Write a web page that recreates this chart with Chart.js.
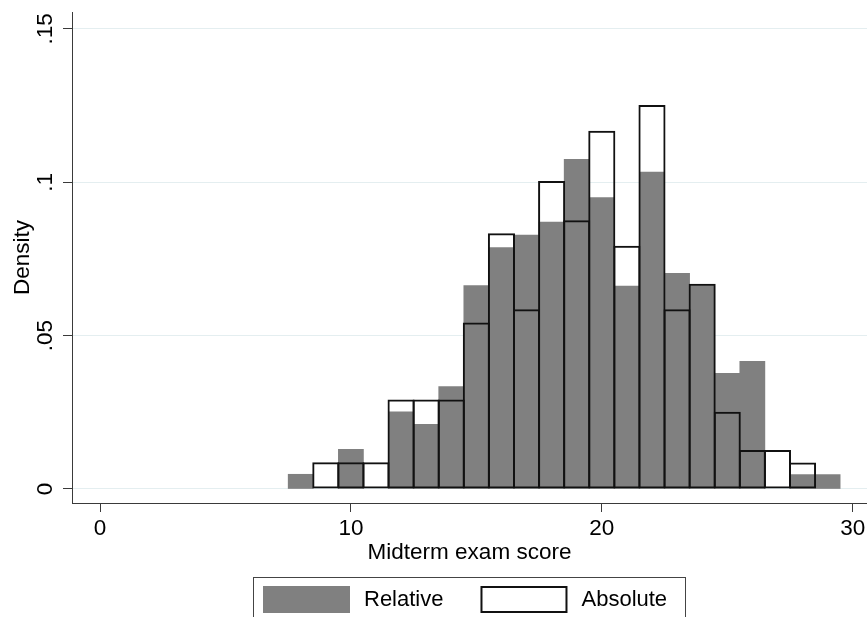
<!DOCTYPE html>
<html>
<head>
<meta charset="utf-8">
<title>Midterm exam score histogram</title>
<script src="https://cdn.jsdelivr.net/npm/chart.js@4.4.0/dist/chart.umd.min.js"></script>
<style>
  html, body { margin: 0; padding: 0; background: #ffffff; }
  #wrap { width: 867px; height: 617px; }
</style>
</head>
<body>
<div id="wrap"><canvas id="histogram" width="867" height="617"></canvas></div>
<script>
// Bin centres (width-1 bins) of the midterm exam score
const binCenters = [8, 9, 10, 11, 12, 13, 14, 15, 16, 17, 18, 19, 20, 21, 22, 23, 24, 25, 26, 27, 28, 29];

// Density per bin; null where the group has no observations
const relativeDensity = [0.0048, null, 0.0129, null, 0.0252, 0.0211, 0.0334, 0.0663, 0.0787, 0.0828, 0.0870,
                         0.1075, 0.0950, 0.0662, 0.1033, 0.0703, 0.0663, 0.0377, 0.0416, null, 0.0047, 0.0047];
const absoluteDensity = [null, 0.0087, 0.0087, 0.0087, 0.0292, 0.0292, 0.0292, 0.0543, 0.0834, 0.0586, 0.1004,
                         0.0876, 0.1168, 0.0793, 0.1252, 0.0586, 0.0669, 0.0252, 0.0127, 0.0127, 0.0086, null];

const seriesNames = ['Relative', 'Absolute'];

const xTickValues = [0, 10, 20, 30];
const xTickLabels = ['0', '10', '20', '30'];
const yTickValues = [0, 0.05, 0.1, 0.15];
const yTickLabels = ['0', '.05', '.1', '.15'];

const FONT_FAMILY = '"Liberation Sans", Arial, Helvetica, sans-serif';
const baseFont = { family: FONT_FAMILY, size: 22.5 };
const AXIS_COLOR = '#3a3a3a';
const GRID_COLOR = '#e4eef0';
const GRAY_FILL = '#808080';
const OUTLINE = '#111111';

function toPoints(values) {
  return binCenters
    .map((x, i) => ({ x: x, y: values[i] }))
    .filter(p => p.y !== null);
}

// Boxed legend under the axis title, drawn from the dataset styles
const boxedLegend = {
  id: 'boxedLegend',
  afterDraw(chart) {
    const ctx = chart.ctx;
    const area = chart.chartArea;
    const sets = chart.data.datasets;
    const cx = (area.left + area.right) / 2;
    ctx.save();
    ctx.font = '22px ' + FONT_FAMILY;
    const swW = 87, swH = 27, padL = 10, padR = 18, textGap = 14, itemGap = 37;
    const w0 = ctx.measureText(sets[0].label).width;
    const w1 = ctx.measureText(sets[1].label).width;
    const total = padL + swW + textGap + w0 + itemGap + swW + textGap + w1 + padR;
    const left = Math.round(cx - total / 2);
    const top = 577;
    // frame
    ctx.strokeStyle = '#444444';
    ctx.lineWidth = 1;
    ctx.strokeRect(left + 0.5, top + 0.5, Math.round(total), 80);
    const swTop = top + 9;
    const midY = swTop + swH / 2;
    // first item: filled swatch
    let x = left + padL;
    ctx.fillStyle = sets[0].backgroundColor;
    ctx.fillRect(x, swTop, swW, swH);
    x += swW + textGap;
    ctx.fillStyle = '#000000';
    ctx.textBaseline = 'middle';
    ctx.textAlign = 'left';
    ctx.fillText(sets[0].label, x, midY);
    x += w0 + itemGap;
    // second item: outlined swatch
    ctx.fillStyle = '#ffffff';
    ctx.fillRect(x, swTop, swW, swH);
    ctx.strokeStyle = sets[1].borderColor;
    ctx.lineWidth = 2;
    ctx.strokeRect(x + 1, swTop + 1, swW - 2, swH - 2);
    x += swW + textGap;
    ctx.fillStyle = '#000000';
    ctx.fillText(sets[1].label, x, midY);
    ctx.restore();
  }
};

new Chart(document.getElementById('histogram'), {
  type: 'bar',
  data: {
    datasets: [
      {
        label: seriesNames[0],
        data: toPoints(relativeDensity),
        backgroundColor: GRAY_FILL,
        borderWidth: 0,
        barPercentage: 1,
        categoryPercentage: 1,
        grouped: false,
        order: 2
      },
      {
        label: seriesNames[1],
        data: toPoints(absoluteDensity),
        backgroundColor: 'rgba(0,0,0,0)',
        borderColor: OUTLINE,
        borderWidth: 2,
        borderSkipped: false,
        barPercentage: 1.08,
        categoryPercentage: 1,
        grouped: false,
        order: 1
      }
    ]
  },
  options: {
    responsive: false,
    animation: false,
    devicePixelRatio: 1,
    layout: { padding: { top: 12, right: 0, bottom: 0, left: 0 } },
    plugins: {
      legend: { display: false },
      tooltip: { enabled: false }
    },
    scales: {
      x: {
        type: 'linear',
        offset: false,
        min: -1.116,
        max: 30.57,
        afterBuildTicks: s => { s.ticks = xTickValues.map(v => ({ value: v })); },
        afterFit: s => { s.height = 114; s.paddingLeft = 0; s.paddingRight = 0; },
        ticks: {
          autoSkip: false,
          maxRotation: 0,
          padding: 3,
          color: '#000000',
          font: baseFont,
          callback: (v, i) => xTickLabels[i]
        },
        grid: { offset: false, drawOnChartArea: false, tickLength: 9, tickColor: AXIS_COLOR, tickWidth: 1 },
        border: { display: true, color: AXIS_COLOR, width: 1 },
        title: {
          display: true,
          text: 'Midterm exam score',
          color: '#000000',
          font: baseFont,
          padding: { top: 0, bottom: 51 }
        }
      },
      y: {
        type: 'linear',
        min: -0.004565,
        max: 0.15553,
        afterBuildTicks: s => { s.ticks = yTickValues.map(v => ({ value: v })); },
        afterFit: s => { s.width = 72; s.paddingTop = 0; s.paddingBottom = 0; },
        ticks: {
          minRotation: 90,
          maxRotation: 90,
          crossAlign: 'center',
          padding: 2,
          color: '#000000',
          font: baseFont,
          callback: (v, i) => yTickLabels[i]
        },
        grid: { color: GRID_COLOR, lineWidth: 1, tickLength: 9, tickColor: AXIS_COLOR, tickWidth: 1 },
        border: { display: true, color: AXIS_COLOR, width: 1 },
        title: {
          display: true,
          text: 'Density',
          color: '#000000',
          font: baseFont,
          padding: { top: 9, bottom: 0 }
        }
      }
    }
  },
  plugins: [boxedLegend]
});
</script>
</body>
</html>
